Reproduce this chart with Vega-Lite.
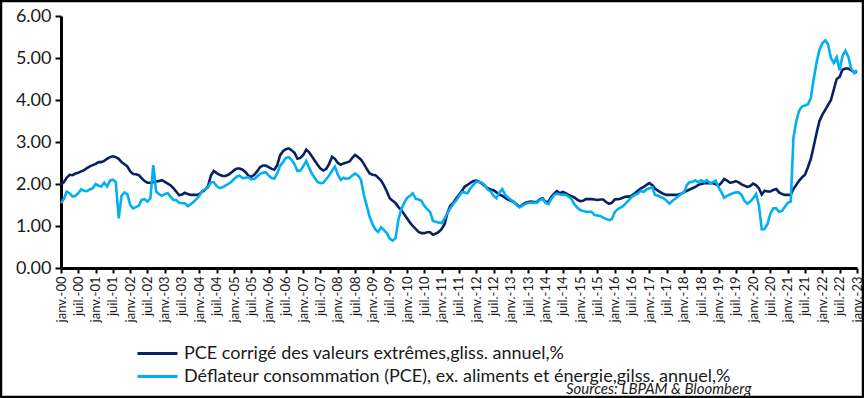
{
"$schema":"https://vega.github.io/schema/vega-lite/v6.json",
"autosize":{"type":"none"},
"padding":{"left":1,"top":1,"right":1,"bottom":1},
"width":862,"height":396,
"background":"white",
"config":{"view":{"stroke":"#000","strokeWidth":2.5,"fill":"white"}},
"title":{"text":"Sources: LBPAM & Bloomberg","orient":"bottom","anchor":"start","frame":"group","offset":-15,"dx":565,"font":"Lato","fontSize":15,"fontStyle":"italic","fontWeight":"normal","color":"#1a1a1a"},
"data":{"values":[
{"d":"2000-01","a":1.98,"b":1.54},{"d":"2000-02","a":2.05,"b":1.65},{"d":"2000-03","a":2.15,"b":1.82},{"d":"2000-04","a":2.22,"b":1.78},{"d":"2000-05","a":2.21,"b":1.70},{"d":"2000-06","a":2.25,"b":1.72},{"d":"2000-07","a":2.27,"b":1.78},{"d":"2000-08","a":2.30,"b":1.87},{"d":"2000-09","a":2.33,"b":1.84},{"d":"2000-10","a":2.38,"b":1.83},{"d":"2000-11","a":2.42,"b":1.87},{"d":"2000-12","a":2.45,"b":1.90},
{"d":"2001-01","a":2.48,"b":2.00},{"d":"2001-02","a":2.52,"b":1.96},{"d":"2001-03","a":2.52,"b":1.94},{"d":"2001-04","a":2.55,"b":2.03},{"d":"2001-05","a":2.60,"b":1.94},{"d":"2001-06","a":2.64,"b":2.08},{"d":"2001-07","a":2.66,"b":2.10},{"d":"2001-08","a":2.64,"b":2.05},{"d":"2001-09","a":2.60,"b":1.18},{"d":"2001-10","a":2.52,"b":1.72},{"d":"2001-11","a":2.47,"b":1.80},{"d":"2001-12","a":2.42,"b":1.76},
{"d":"2002-01","a":2.30,"b":1.50},{"d":"2002-02","a":2.24,"b":1.42},{"d":"2002-03","a":2.23,"b":1.45},{"d":"2002-04","a":2.21,"b":1.48},{"d":"2002-05","a":2.14,"b":1.62},{"d":"2002-06","a":2.07,"b":1.64},{"d":"2002-07","a":2.03,"b":1.58},{"d":"2002-08","a":2.03,"b":1.66},{"d":"2002-09","a":2.04,"b":2.45},{"d":"2002-10","a":2.06,"b":1.82},{"d":"2002-11","a":2.07,"b":1.76},{"d":"2002-12","a":2.09,"b":1.72},
{"d":"2003-01","a":2.05,"b":1.76},{"d":"2003-02","a":2.01,"b":1.78},{"d":"2003-03","a":1.97,"b":1.70},{"d":"2003-04","a":1.90,"b":1.62},{"d":"2003-05","a":1.82,"b":1.62},{"d":"2003-06","a":1.73,"b":1.55},{"d":"2003-07","a":1.75,"b":1.54},{"d":"2003-08","a":1.79,"b":1.54},{"d":"2003-09","a":1.76,"b":1.47},{"d":"2003-10","a":1.74,"b":1.52},{"d":"2003-11","a":1.74,"b":1.58},{"d":"2003-12","a":1.74,"b":1.64},
{"d":"2004-01","a":1.76,"b":1.72},{"d":"2004-02","a":1.82,"b":1.84},{"d":"2004-03","a":1.86,"b":1.88},{"d":"2004-04","a":1.95,"b":1.92},{"d":"2004-05","a":2.20,"b":2.04},{"d":"2004-06","a":2.31,"b":2.04},{"d":"2004-07","a":2.26,"b":1.95},{"d":"2004-08","a":2.22,"b":1.90},{"d":"2004-09","a":2.19,"b":1.92},{"d":"2004-10","a":2.19,"b":1.96},{"d":"2004-11","a":2.22,"b":2.00},{"d":"2004-12","a":2.27,"b":2.05},
{"d":"2005-01","a":2.33,"b":2.12},{"d":"2005-02","a":2.37,"b":2.18},{"d":"2005-03","a":2.37,"b":2.20},{"d":"2005-04","a":2.34,"b":2.14},{"d":"2005-05","a":2.28,"b":2.15},{"d":"2005-06","a":2.20,"b":2.16},{"d":"2005-07","a":2.17,"b":2.11},{"d":"2005-08","a":2.22,"b":2.12},{"d":"2005-09","a":2.30,"b":2.18},{"d":"2005-10","a":2.40,"b":2.24},{"d":"2005-11","a":2.44,"b":2.27},{"d":"2005-12","a":2.44,"b":2.28},
{"d":"2006-01","a":2.40,"b":2.20},{"d":"2006-02","a":2.36,"b":2.14},{"d":"2006-03","a":2.34,"b":2.13},{"d":"2006-04","a":2.45,"b":2.25},{"d":"2006-05","a":2.68,"b":2.43},{"d":"2006-06","a":2.78,"b":2.52},{"d":"2006-07","a":2.83,"b":2.62},{"d":"2006-08","a":2.85,"b":2.64},{"d":"2006-09","a":2.80,"b":2.57},{"d":"2006-10","a":2.74,"b":2.47},{"d":"2006-11","a":2.60,"b":2.31},{"d":"2006-12","a":2.62,"b":2.32},
{"d":"2007-01","a":2.69,"b":2.42},{"d":"2007-02","a":2.82,"b":2.55},{"d":"2007-03","a":2.76,"b":2.40},{"d":"2007-04","a":2.66,"b":2.25},{"d":"2007-05","a":2.56,"b":2.15},{"d":"2007-06","a":2.46,"b":2.05},{"d":"2007-07","a":2.37,"b":2.02},{"d":"2007-08","a":2.32,"b":2.03},{"d":"2007-09","a":2.36,"b":2.12},{"d":"2007-10","a":2.48,"b":2.20},{"d":"2007-11","a":2.65,"b":2.32},{"d":"2007-12","a":2.60,"b":2.41},
{"d":"2008-01","a":2.50,"b":2.22},{"d":"2008-02","a":2.46,"b":2.10},{"d":"2008-03","a":2.49,"b":2.15},{"d":"2008-04","a":2.51,"b":2.12},{"d":"2008-05","a":2.53,"b":2.14},{"d":"2008-06","a":2.62,"b":2.20},{"d":"2008-07","a":2.69,"b":2.25},{"d":"2008-08","a":2.64,"b":2.20},{"d":"2008-09","a":2.58,"b":2.10},{"d":"2008-10","a":2.48,"b":1.75},{"d":"2008-11","a":2.36,"b":1.48},{"d":"2008-12","a":2.25,"b":1.22},
{"d":"2009-01","a":2.22,"b":1.04},{"d":"2009-02","a":2.21,"b":0.92},{"d":"2009-03","a":2.15,"b":0.86},{"d":"2009-04","a":2.08,"b":0.97},{"d":"2009-05","a":1.97,"b":0.90},{"d":"2009-06","a":1.82,"b":0.83},{"d":"2009-07","a":1.66,"b":0.70},{"d":"2009-08","a":1.60,"b":0.65},{"d":"2009-09","a":1.55,"b":0.71},{"d":"2009-10","a":1.45,"b":1.15},{"d":"2009-11","a":1.38,"b":1.40},{"d":"2009-12","a":1.28,"b":1.55},
{"d":"2010-01","a":1.18,"b":1.67},{"d":"2010-02","a":1.08,"b":1.72},{"d":"2010-03","a":1.00,"b":1.78},{"d":"2010-04","a":0.93,"b":1.65},{"d":"2010-05","a":0.86,"b":1.63},{"d":"2010-06","a":0.83,"b":1.60},{"d":"2010-07","a":0.83,"b":1.48},{"d":"2010-08","a":0.85,"b":1.40},{"d":"2010-09","a":0.85,"b":1.33},{"d":"2010-10","a":0.79,"b":1.12},{"d":"2010-11","a":0.82,"b":1.10},{"d":"2010-12","a":0.86,"b":1.08},
{"d":"2011-01","a":0.93,"b":1.07},{"d":"2011-02","a":1.05,"b":1.18},{"d":"2011-03","a":1.30,"b":1.30},{"d":"2011-04","a":1.48,"b":1.42},{"d":"2011-05","a":1.55,"b":1.52},{"d":"2011-06","a":1.65,"b":1.60},{"d":"2011-07","a":1.74,"b":1.70},{"d":"2011-08","a":1.83,"b":1.80},{"d":"2011-09","a":1.94,"b":1.80},{"d":"2011-10","a":1.98,"b":1.78},{"d":"2011-11","a":2.03,"b":1.90},{"d":"2011-12","a":2.07,"b":1.98},
{"d":"2012-01","a":2.08,"b":2.05},{"d":"2012-02","a":2.05,"b":2.05},{"d":"2012-03","a":2.01,"b":2.03},{"d":"2012-04","a":1.95,"b":1.97},{"d":"2012-05","a":1.90,"b":1.87},{"d":"2012-06","a":1.87,"b":1.82},{"d":"2012-07","a":1.85,"b":1.72},{"d":"2012-08","a":1.80,"b":1.66},{"d":"2012-09","a":1.75,"b":1.80},{"d":"2012-10","a":1.72,"b":1.88},{"d":"2012-11","a":1.67,"b":1.74},{"d":"2012-12","a":1.63,"b":1.68},
{"d":"2013-01","a":1.60,"b":1.62},{"d":"2013-02","a":1.57,"b":1.58},{"d":"2013-03","a":1.52,"b":1.50},{"d":"2013-04","a":1.46,"b":1.44},{"d":"2013-05","a":1.50,"b":1.48},{"d":"2013-06","a":1.55,"b":1.52},{"d":"2013-07","a":1.57,"b":1.55},{"d":"2013-08","a":1.58,"b":1.56},{"d":"2013-09","a":1.57,"b":1.55},{"d":"2013-10","a":1.57,"b":1.55},{"d":"2013-11","a":1.64,"b":1.62},{"d":"2013-12","a":1.66,"b":1.64},
{"d":"2014-01","a":1.57,"b":1.55},{"d":"2014-02","a":1.58,"b":1.52},{"d":"2014-03","a":1.69,"b":1.64},{"d":"2014-04","a":1.77,"b":1.74},{"d":"2014-05","a":1.83,"b":1.77},{"d":"2014-06","a":1.78,"b":1.75},{"d":"2014-07","a":1.81,"b":1.74},{"d":"2014-08","a":1.78,"b":1.74},{"d":"2014-09","a":1.74,"b":1.70},{"d":"2014-10","a":1.71,"b":1.64},{"d":"2014-11","a":1.68,"b":1.52},{"d":"2014-12","a":1.63,"b":1.44},
{"d":"2015-01","a":1.59,"b":1.38},{"d":"2015-02","a":1.60,"b":1.36},{"d":"2015-03","a":1.64,"b":1.34},{"d":"2015-04","a":1.64,"b":1.34},{"d":"2015-05","a":1.64,"b":1.34},{"d":"2015-06","a":1.63,"b":1.26},{"d":"2015-07","a":1.62,"b":1.25},{"d":"2015-08","a":1.63,"b":1.24},{"d":"2015-09","a":1.63,"b":1.20},{"d":"2015-10","a":1.57,"b":1.17},{"d":"2015-11","a":1.53,"b":1.14},{"d":"2015-12","a":1.55,"b":1.16},
{"d":"2016-01","a":1.63,"b":1.33},{"d":"2016-02","a":1.64,"b":1.40},{"d":"2016-03","a":1.65,"b":1.44},{"d":"2016-04","a":1.68,"b":1.48},{"d":"2016-05","a":1.70,"b":1.55},{"d":"2016-06","a":1.70,"b":1.62},{"d":"2016-07","a":1.73,"b":1.70},{"d":"2016-08","a":1.78,"b":1.74},{"d":"2016-09","a":1.84,"b":1.77},{"d":"2016-10","a":1.89,"b":1.84},{"d":"2016-11","a":1.93,"b":1.81},{"d":"2016-12","a":1.98,"b":1.87},
{"d":"2017-01","a":2.02,"b":1.90},{"d":"2017-02","a":1.97,"b":1.92},{"d":"2017-03","a":1.89,"b":1.74},{"d":"2017-04","a":1.84,"b":1.72},{"d":"2017-05","a":1.80,"b":1.69},{"d":"2017-06","a":1.76,"b":1.66},{"d":"2017-07","a":1.74,"b":1.60},{"d":"2017-08","a":1.74,"b":1.53},{"d":"2017-09","a":1.74,"b":1.60},{"d":"2017-10","a":1.74,"b":1.65},{"d":"2017-11","a":1.75,"b":1.71},{"d":"2017-12","a":1.77,"b":1.76},
{"d":"2018-01","a":1.80,"b":1.80},{"d":"2018-02","a":1.84,"b":1.98},{"d":"2018-03","a":1.87,"b":2.04},{"d":"2018-04","a":1.90,"b":2.05},{"d":"2018-05","a":1.93,"b":2.09},{"d":"2018-06","a":1.98,"b":2.04},{"d":"2018-07","a":2.00,"b":2.09},{"d":"2018-08","a":2.02,"b":2.05},{"d":"2018-09","a":2.02,"b":2.09},{"d":"2018-10","a":2.02,"b":2.02},{"d":"2018-11","a":2.02,"b":2.04},{"d":"2018-12","a":2.00,"b":2.08},
{"d":"2019-01","a":1.96,"b":1.92},{"d":"2019-02","a":2.03,"b":1.80},{"d":"2019-03","a":2.12,"b":1.67},{"d":"2019-04","a":2.08,"b":1.72},{"d":"2019-05","a":2.03,"b":1.75},{"d":"2019-06","a":2.04,"b":1.78},{"d":"2019-07","a":2.07,"b":1.80},{"d":"2019-08","a":2.04,"b":1.80},{"d":"2019-09","a":1.99,"b":1.74},{"d":"2019-10","a":1.96,"b":1.60},{"d":"2019-11","a":1.93,"b":1.53},{"d":"2019-12","a":1.95,"b":1.58},
{"d":"2020-01","a":2.01,"b":1.66},{"d":"2020-02","a":1.97,"b":1.76},{"d":"2020-03","a":1.90,"b":1.50},{"d":"2020-04","a":1.75,"b":0.92},{"d":"2020-05","a":1.84,"b":0.93},{"d":"2020-06","a":1.82,"b":1.05},{"d":"2020-07","a":1.82,"b":1.30},{"d":"2020-08","a":1.86,"b":1.42},{"d":"2020-09","a":1.88,"b":1.42},{"d":"2020-10","a":1.80,"b":1.34},{"d":"2020-11","a":1.76,"b":1.36},{"d":"2020-12","a":1.74,"b":1.46},
{"d":"2021-01","a":1.74,"b":1.55},{"d":"2021-02","a":1.74,"b":1.58},{"d":"2021-03","a":1.88,"b":3.10},{"d":"2021-04","a":1.98,"b":3.50},{"d":"2021-05","a":2.08,"b":3.75},{"d":"2021-06","a":2.16,"b":3.85},{"d":"2021-07","a":2.22,"b":3.87},{"d":"2021-08","a":2.40,"b":3.90},{"d":"2021-09","a":2.60,"b":4.05},{"d":"2021-10","a":2.90,"b":4.50},{"d":"2021-11","a":3.22,"b":4.90},{"d":"2021-12","a":3.50,"b":5.20},
{"d":"2022-01","a":3.65,"b":5.35},{"d":"2022-02","a":3.77,"b":5.42},{"d":"2022-03","a":3.88,"b":5.33},{"d":"2022-04","a":4.00,"b":5.00},{"d":"2022-05","a":4.25,"b":4.88},{"d":"2022-06","a":4.50,"b":5.02},{"d":"2022-07","a":4.55,"b":4.71},{"d":"2022-08","a":4.72,"b":5.05},{"d":"2022-09","a":4.75,"b":5.17},{"d":"2022-10","a":4.75,"b":5.03},{"d":"2022-11","a":4.71,"b":4.75},{"d":"2022-12","a":4.66,"b":4.64},
{"d":"2023-01","a":4.67,"b":4.71}
]},
"transform":[{"fold":["a","b"],"as":["key","value"]}],
"mark":{"type":"line","strokeWidth":2.6,"clip":false},
"encoding":{
"x":{"field":"d","type":"temporal",
"scale":{"type":"utc","domain":[{"year":2000,"month":1,"date":1,"utc":true},{"year":2023,"month":1,"date":1,"utc":true}],"range":[60,856]},
"axis":{"orient":"bottom","offset":-129,"title":null,"tickCount":{"interval":"month","step":6},"labelExpr":"(utcmonth(datum.value)==0?'janv.-':'juil.-')+utcFormat(datum.value,'%y')","labelAngle":-90,"labelFont":"Lato","labelFontSize":13,"labelColor":"#1a1a1a","domainColor":"#000","domainWidth":3,"tickColor":"#000","tickWidth":2,"tickSize":5,"labelPadding":3,"grid":false,"labelOverlap":false,"labelFlush":false,"labelBound":false}},
"y":{"field":"value","type":"quantitative",
"scale":{"domain":[0,6],"nice":false,"zero":false,"range":[267,15]},
"axis":{"orient":"left","offset":-60,"title":null,"values":[0,1,2,3,4,5,6],"format":".2f","labelFont":"Lato","labelFontSize":18,"labelColor":"#1a1a1a","domainColor":"#000","domainWidth":3,"tickColor":"#000","tickWidth":2,"tickSize":6,"labelPadding":4,"grid":false}},
"color":{"field":"key","type":"nominal",
"scale":{"domain":["a","b"],"range":["#0B2063","#00B0F0"]},
"legend":{"orient":"none","legendX":145,"legendY":341,"title":null,"direction":"vertical","symbolType":"M-2,0H2","symbolSize":400,"symbolStrokeWidth":3,"symbolOffset":0,"labelFont":"Lato","labelFontSize":18,"labelColor":"#1a1a1a","labelLimit":800,"labelOffset":15,"rowPadding":2,
"labelExpr":"datum.label=='a'?'PCE corrigé des valeurs extrêmes,gliss. annuel,%':'Déflateur consommation (PCE), ex. aliments et énergie,gilss. annuel,%'"}}
}
}
